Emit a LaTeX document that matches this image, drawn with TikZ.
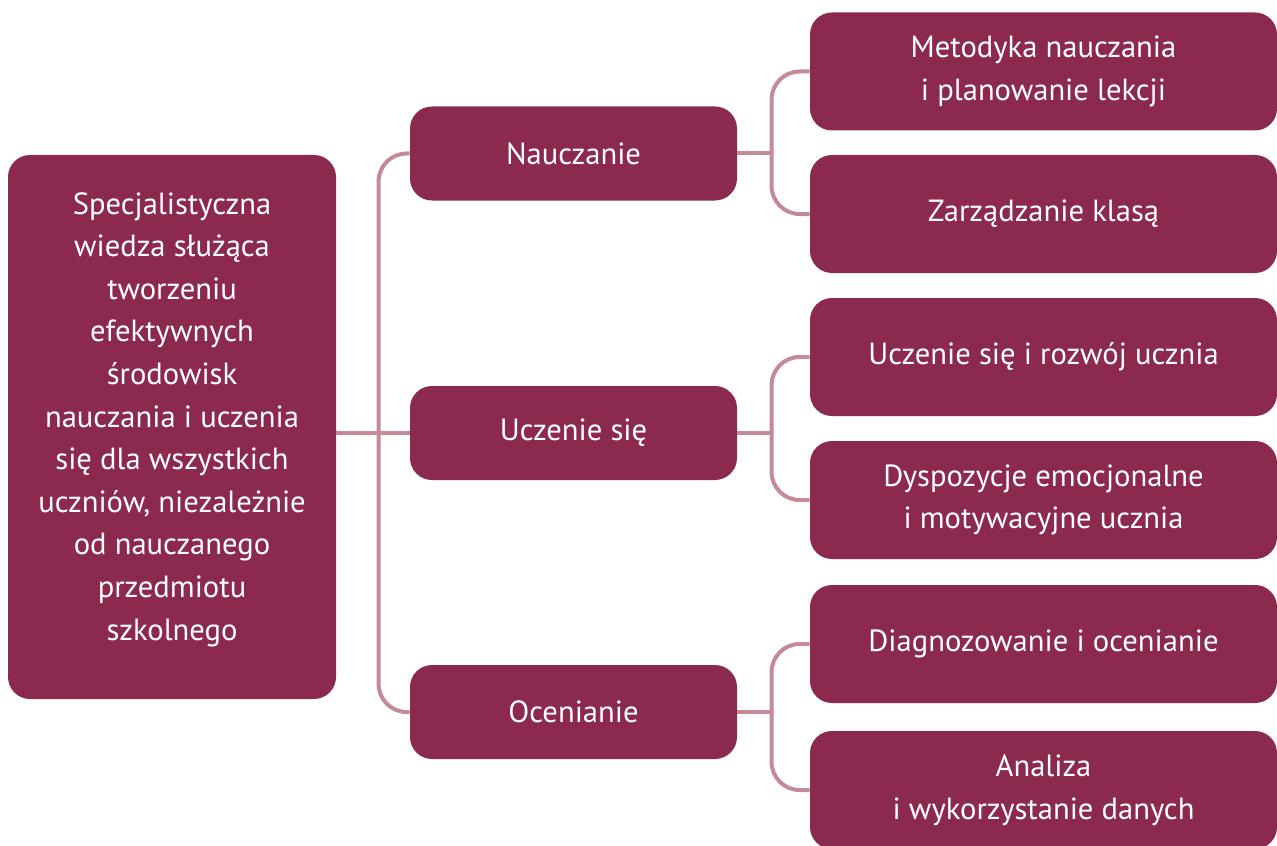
\documentclass[tikz,border=0pt]{standalone}
\usepackage{fontspec}
\setmainfont{PT Sans}
\definecolor{boxred}{HTML}{8B2A4E}
\definecolor{linkpink}{HTML}{C48A98}
\tikzset{
    every node/.style={fill=boxred, text=white, rounded corners=11pt,
        inner sep=0pt, align=center, font=\fontsize{15.3}{21.3}\selectfont},
    leftbox/.style={minimum width=164pt, minimum height=272pt},
    midbox/.style={minimum width=163.5pt, minimum height=47pt},
    rightbox/.style={minimum width=233.5pt, minimum height=59pt},
    link/.style={draw=linkpink, line width=2pt, rounded corners=14pt}
}

\begin{document}
\begin{tikzpicture}[x=0.5pt, y=-0.5pt]
	\useasboundingbox (0,0) rectangle (1277,845);
	\node (spec) [leftbox] at (172, 427) {Specjalistyczna\\wiedza służąca\\tworzeniu\\efektywnych\\środowisk\\nauczania i uczenia\\się dla wszystkich\\uczniów, niezależnie\\od nauczanego\\przedmiotu\\szkolnego\\[-10.5pt]\mbox{}};
	\node (naucz) [midbox] at (573.5, 153.5) {Nauczanie};
	\node (uczen) [midbox] at (573.5, 433) {Uczenie się};
	\node (ocen) [midbox] at (573.5, 712) {Ocenianie};
	\node (r1) [rightbox] at (1043.5, 71.5) {Metodyka nauczania\\i planowanie lekcji};
	\node (r2) [rightbox] at (1043.5, 214) {Zarządzanie klasą};
	\node (r3) [rightbox] at (1043.5, 357) {Uczenie się i rozwój ucznia};
	\node (r4) [rightbox] at (1043.5, 500) {Dyspozycje emocjonalne\\i motywacyjne ucznia};
	\node (r5) [rightbox] at (1043.5, 644) {Diagnozowanie i ocenianie};
	\node (r6) [rightbox] at (1043.5, 790) {Analiza\\i wykorzystanie danych};

	\draw[link] (naucz.west) -- ++(-31,0) |- (ocen.west);
	\draw[link] (spec.east |- uczen.west) -- (uczen.west);
	\draw[link] (r1.west) -- ++(-38,0) |- (r2.west);
	\draw[link] (r3.west) -- ++(-38,0) |- (r4.west);
	\draw[link] (r5.west) -- ++(-38,0) |- (r6.west);
	\draw[link] (naucz.east) -- ++(35,0);
	\draw[link] (uczen.east) -- ++(35,0);
	\draw[link] (ocen.east) -- ++(35,0);
\end{tikzpicture}
\end{document}
